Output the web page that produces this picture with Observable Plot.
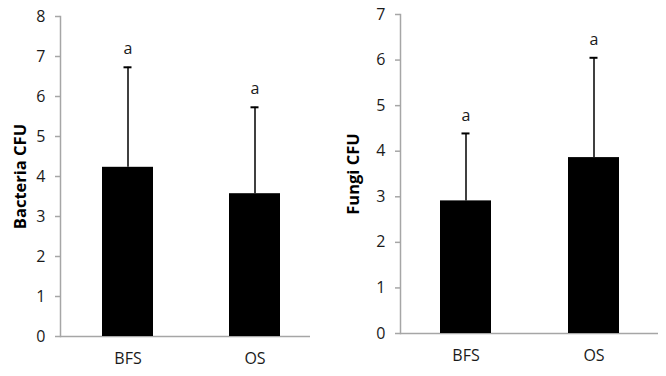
<!DOCTYPE html>
<html><head><meta charset="utf-8">
<script src="https://cdn.jsdelivr.net/npm/d3@7"></script>
<script src="https://cdn.jsdelivr.net/npm/@observablehq/plot@0.6"></script>
<style>
html,body{margin:0;padding:0;background:#fff;}
#wrap{position:relative;width:666px;height:376px;}
#left{position:absolute;left:0;top:0;width:333px;height:376px;}
#right{position:absolute;left:333px;top:0;width:333px;height:376px;}
#wrap svg{font-family:"Open Sans",sans-serif;}
</style></head>
<body><div id="wrap"><div id="left"></div><div id="right"></div></div>
<script>
const categories = ["BFS", "OS"];
const bacteriaMean = [4.23, 3.57];
const bacteriaErr = [6.73, 5.73];
const fungiMean = [2.91, 3.86];
const fungiErr = [4.39, 6.05];
const letters = ["a", "a"];

function panel({mean, err, label, yMax, mL, mT, mB, mR, po, align}) {
  const data = categories.map((c, i) => ({cat: c, mean: mean[i], err: err[i], letter: letters[i]}));
  const ticks = d3.range(0, yMax + 1);
  return Plot.plot({
    width: 333, height: 376,
    marginLeft: mL, marginTop: mT, marginBottom: mB, marginRight: mR,
    style: {fontFamily: "'Open Sans', sans-serif", fontSize: "16px", color: "#222", background: "#fff"},
    x: {domain: categories, paddingInner: 0.6, paddingOuter: po, align: align, label: null},
    y: {domain: [0, yMax], ticks: ticks, label: null},
    marks: [
      Plot.frame({anchor: "left", stroke: "#a6a6a6", strokeWidth: 1.5}),
      Plot.ruleY([0], {stroke: "#a6a6a6", strokeWidth: 1.5}),
      Plot.axisX({tickSize: 0, tickPadding: 16, fontSize: 16, label: null, fill: "#1a1a1a"}),
      Plot.axisY({ticks: ticks, tickFormat: d3.format("d"), tickSize: 5, tickPadding: 10, fontSize: 16, stroke: "#a6a6a6", strokeWidth: 1.5, fill: "#1a1a1a", label: null}),
      Plot.ruleX(data, {x: "cat", y1: "mean", y2: "err", stroke: "#000", strokeWidth: 1.5}),
      Plot.tickY(data, {x: "cat", y: "err", stroke: "#000", strokeWidth: 2, inset: 21.5}),
      Plot.barY(data, {x: "cat", y: "mean", fill: "#000"}),
      Plot.text(data, {x: "cat", y: "err", text: "letter", dy: -18, fontSize: 16, fill: "#1a1a1a"}),
      Plot.text([label], {frameAnchor: "left", textAnchor: "middle", dx: -mL + 20, rotate: -90, fontWeight: "bold", fontSize: 16.5, fill: "#000", text: d => d})
    ]
  });
}

document.getElementById("left").appendChild(panel({
  mean: bacteriaMean, err: bacteriaErr, label: "Bacteria CFU", yMax: 8,
  mL: 60, mT: 16, mB: 40, mR: 23, po: 0.277, align: 0.575
}));
document.getElementById("right").appendChild(panel({
  mean: fungiMean, err: fungiErr, label: "Fungi CFU", yMax: 7,
  mL: 67, mT: 14, mB: 43, mR: 8, po: 0.301, align: 0.506
}));
</script></body></html>
